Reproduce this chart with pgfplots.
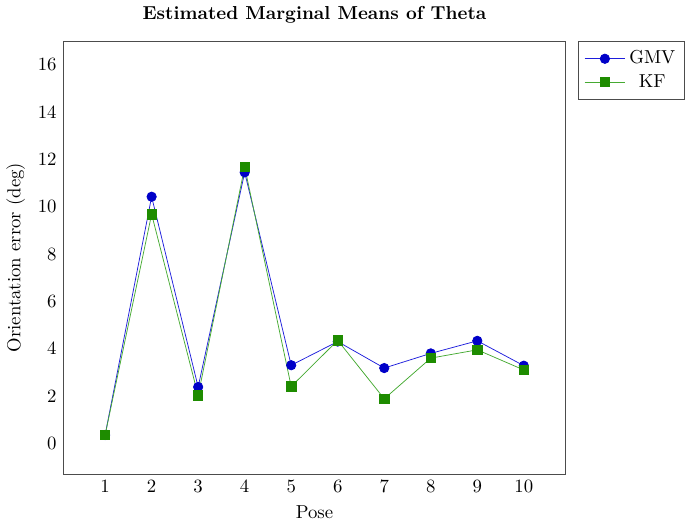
\documentclass[border=0pt]{standalone}
\usepackage{pgfplots}
\pgfplotsset{compat=1.18}
\definecolor{gmvline}{RGB}{30,30,220}
\definecolor{gmvmark}{RGB}{0,0,200}
\definecolor{kfline}{RGB}{70,170,50}
\definecolor{kfmark}{RGB}{30,140,0}
\begin{document}
\begin{tikzpicture}
\begin{axis}[
  scale only axis,
  width=268pt, height=231pt,
  xmin=0.1, xmax=10.9,
  ymin=-1.3, ymax=17,
  xtick={1,...,10},
  ytick={0,2,...,16},
  major tick length=0pt,
  axis line style={black!70},
  title={\textbf{Estimated Marginal Means of Theta}},
  xlabel={Pose},
  ylabel={Orientation error (deg)},
  legend style={at={(1.025,1)}, anchor=north west, draw=black!70, font=\normalsize, inner ysep=3pt},
  legend cell align=center,
  legend image code/.code={\draw[mark repeat=2,mark phase=2] plot coordinates {(0cm,0cm) (0.38cm,0cm) (0.76cm,0cm)};},
]
\addplot[color=gmvline, thin, mark=*, mark size=2.5pt, mark options={fill=gmvmark, draw=gmvmark}]
coordinates {(1,0.35) (2,10.42) (3,2.38) (4,11.45) (5,3.3) (6,4.3) (7,3.18) (8,3.8) (9,4.33) (10,3.28)};
\addlegendentry{GMV}
\addplot[color=kfline, thin, mark=square*, mark size=2.5pt, mark options={fill=kfmark, draw=kfmark}]
coordinates {(1,0.35) (2,9.68) (3,2.02) (4,11.68) (5,2.4) (6,4.35) (7,1.88) (8,3.6) (9,3.95) (10,3.1)};
\addlegendentry{KF}
\end{axis}
\end{tikzpicture}
\end{document}
